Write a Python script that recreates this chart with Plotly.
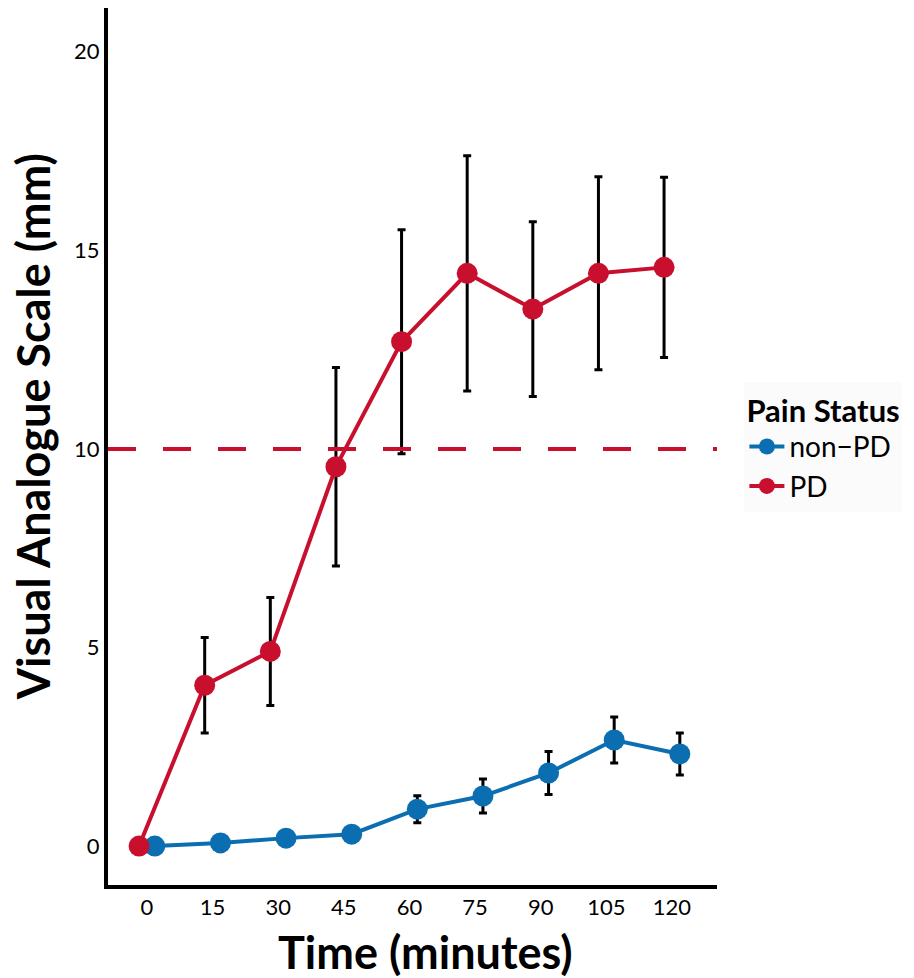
import plotly.graph_objects as go

times = [0, 15, 30, 45, 60, 75, 90, 105, 120]
tick_labels = ["0", "15", "30", "45", "60", "75", "90", "105", "120"]
pd_mean = [0.0, 4.05, 4.9, 9.55, 12.7, 14.42, 13.52, 14.42, 14.57]
pd_err = [0.0, 1.2, 1.36, 2.5, 2.82, 2.96, 2.2, 2.43, 2.27]
non_mean = [0.0, 0.08, 0.2, 0.3, 0.93, 1.26, 1.84, 2.67, 2.32]
non_err = [0.0, 0.05, 0.07, 0.08, 0.34, 0.43, 0.54, 0.58, 0.53]
threshold = 10
dodge = 1.8

RED = "#C8102E"
BLUE = "#0A6EB0"
FONT = "Lato"

fig = go.Figure()
fig.add_trace(go.Scatter(
    x=[t + dodge for t in times], y=non_mean, name="non\u2212PD",
    mode="lines+markers",
    line=dict(color=BLUE, width=4),
    marker=dict(color=BLUE, size=21),
    error_y=dict(type="data", array=non_err, visible=True, color="black", thickness=3, width=4),
))
fig.add_trace(go.Scatter(
    x=[t - dodge for t in times], y=pd_mean, name="PD",
    mode="lines+markers",
    line=dict(color=RED, width=4),
    marker=dict(color=RED, size=21),
    error_y=dict(type="data", array=pd_err, visible=True, color="black", thickness=3, width=4),
))
fig.add_hline(y=threshold, line=dict(color=RED, width=4, dash="28px,27px"))

fig.add_annotation(
    text="<b>Visual Analogue Scale (mm)</b>", xref="paper", yref="paper",
    x=-0.123, y=0.522, xanchor="center", yanchor="middle", textangle=-90,
    showarrow=False, font=dict(size=45, family=FONT, color="black"),
)
fig.add_annotation(
    text="<b>Time (minutes)</b>", xref="paper", yref="paper",
    x=0.522, y=-0.0764, xanchor="center", yanchor="middle",
    showarrow=False, font=dict(size=45, family=FONT, color="black"),
)

fig.update_layout(
    width=914, height=978,
    margin=dict(l=108, r=197, t=8, b=93),
    paper_bgcolor="white", plot_bgcolor="white",
    font=dict(family=FONT, color="black"),
    showlegend=True,
    legend=dict(
        title=dict(text="<b>Pain Status</b>", font=dict(size=31, family=FONT)),
        font=dict(size=28, family=FONT),
        x=1.045, xanchor="left", y=0.5, yanchor="middle",
        bgcolor="#FBFBFB", itemsizing="trace", itemwidth=35,
        tracegroupgap=4,
    ),
    xaxis=dict(
        range=[-8.9, 130.3], tickmode="array", tickvals=times, ticktext=tick_labels,
        showgrid=False, zeroline=False, showline=True, linecolor="black", linewidth=4,
        ticks="", tickfont=dict(size=22, family=FONT),
    ),
    yaxis=dict(
        range=[-0.98, 21.1], tickmode="array", tickvals=[0, 5, 10, 15, 20],
        showgrid=False, zeroline=False, showline=True, linecolor="black", linewidth=4,
        ticks="", tickfont=dict(size=22, family=FONT),
    ),
)
fig.write_html("out.html")
